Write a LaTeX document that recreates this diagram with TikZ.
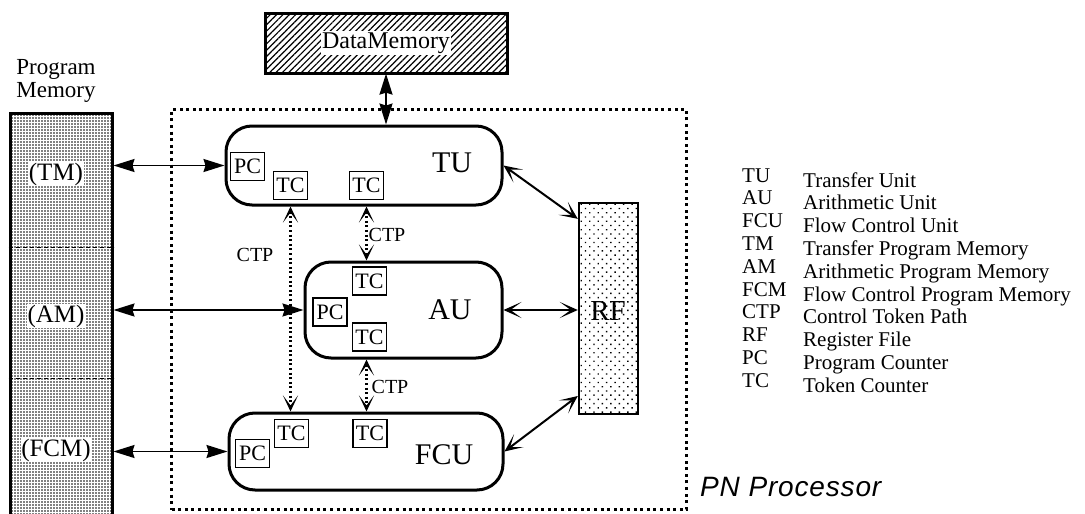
\documentclass[tikz,border=0pt]{standalone}
\usepackage{fontspec}
\setmainfont{Liberation Serif}
\newfontfamily\pnfont{Liberation Sans}[LetterSpace=3]
\usetikzlibrary{arrows.meta,patterns.meta,calc}
\begin{document}
\begin{tikzpicture}[x=1pt,y=-1pt,
  thickbox/.style={draw, line width=3pt, inner sep=0pt},
  unitbox/.style={draw, line width=3pt, rounded corners=26pt, inner sep=0pt},
  smallbox/.style={draw, line width=1.5pt, inner sep=0pt, minimum width=34pt, minimum height=28pt, font=\fontsize{22}{22}\selectfont},
  unitlbl/.style={inner sep=0pt, font=\fontsize{30}{30}\selectfont},
  pmlbl/.style={inner sep=0.5pt, fill=white, font=\fontsize{25}{25}\selectfont},
  ctplbl/.style={inner sep=0pt, font=\fontsize{20}{20}\selectfont},
  legab/.style={anchor=base west, inner sep=0pt, font=\fontsize{21}{21}\selectfont},
  pmarrow/.style={line width=1.8pt, {Stealth[length=21pt,width=13pt,inset=2pt]}-{Stealth[length=21pt,width=13pt,inset=2pt]}},
  rfarrow/.style={line width=2pt, {Stealth[length=18pt,width=16pt,inset=11pt]}-{Stealth[length=18pt,width=16pt,inset=11pt]}},
  ctparrow/.style={line width=2.2pt, dash pattern=on 2pt off 2.6pt, {Stealth[length=16pt,width=15pt,inset=10pt]}-{Stealth[length=16pt,width=15pt,inset=10pt]}},
  divider/.style={line width=1pt, dash pattern=on 4pt off 3pt}
]
\useasboundingbox (0,0) rectangle (1085,514);
\clip (0,0) rectangle (1085,514);

% Program memory
\node[align=center, inner sep=0pt, font=\fontsize{23}{23}\selectfont] (pmt) at (56,81) {Program\\Memory};
\node[thickbox, minimum width=102pt, minimum height=412pt, anchor=north, pattern={Dots[distance=3pt,radius=0.85pt]}] (pm) at (61,112) {};
\coordinate (d1) at (0,247);
\coordinate (d2) at (0,378);
\draw[divider] (pm.west |- d1) -- (pm.east |- d1);
\draw[divider] (pm.west |- d2) -- (pm.east |- d2);
\node[pmlbl] (tm) at (56,174) {(TM)};
\node[pmlbl] (am) at (56,316) {(AM)};
\node[pmlbl] (fcm) at (56,450) {(FCM)};

% Data memory
\node[thickbox, minimum width=242pt, minimum height=60pt, pattern={Lines[angle=45,distance=4.5pt,line width=1.2pt]}] (dm) at (386,43) {};
\node[inner sep=1.5pt, fill=white, font=\fontsize{24}{24}\selectfont] (dmt) at (dm.center) {DataMemory};

% processor frame
\node[draw, line width=3.2pt, dash pattern=on 3pt off 3.6pt, minimum width=515pt, minimum height=400pt, anchor=north west, inner sep=0pt] (proc) at (170,108) {};

% units
\node[unitbox, minimum width=276pt, minimum height=79pt] (tu) at (364,165.5) {};
\node[unitbox, minimum width=197pt, minimum height=96pt] (au) at (403.5,310) {};
\node[unitbox, minimum width=274pt, minimum height=77pt] (fcu) at (366,451.5) {};
\node[unitlbl] (tul) at (452,163) {TU};
\node[unitlbl] (aul) at (450,310) {AU};
\node[unitlbl] (fcul) at (444,455) {FCU};

% PC / TC boxes
\node[smallbox] (tupc) at (247.5,166.5) {PC};
\node[smallbox] (tutc1) at (290.5,185.5) {TC};
\node[smallbox] (tutc2) at (366.5,185.5) {TC};
\node[smallbox] (aupc) at (330,312) {PC};
\node[smallbox] (autc1) at (369.5,281) {TC};
\node[smallbox] (autc2) at (369.5,337) {TC};
\node[smallbox] (fcupc) at (252.5,453.5) {PC};
\node[smallbox] (fcutc1) at (291.5,433.5) {TC};
\node[smallbox] (fcutc2) at (370,433.5) {TC};

% register file
\node[draw, line width=2.4pt, minimum width=59pt, minimum height=211pt, inner sep=0pt, pattern={Dots[distance=6pt,angle=45,radius=1pt]}] (rf) at (608.5,308.5) {};
\node[inner sep=0pt, font=\fontsize{29}{29}\selectfont] (rfl) at (608,311) {RF};

% memory arrows
\draw[pmarrow] (pm.east |- tu.west) -- (tu.west);
\draw[pmarrow] (pm.east |- au.west) -- (au.west);
\draw[pmarrow] (pm.east |- fcu.west) -- (fcu.west);
\draw[pmarrow] (dm.south) -- (dm.south |- tu.north);

% register file arrows
\draw[rfarrow] (tu.east) -- ($(rf.north west)!0.08!(rf.south west)$);
\draw[rfarrow] (au.east) -- (au.east -| rf.west);
\draw[rfarrow] (fcu.east) -- ($(rf.north west)!0.91!(rf.south west)$);

% control token paths
\draw[ctparrow] (tutc1.south |- tu.south) -- (tutc1.south |- fcu.north);
\draw[ctparrow] (tutc2.south |- tu.south) -- (tutc2.south |- au.north);
\draw[ctparrow] (tutc2.south |- au.south) -- (tutc2.south |- fcu.north);
\node[ctplbl] (ctp1) at (255,255) {CTP};
\node[ctplbl] (ctp2) at (387,235) {CTP};
\node[ctplbl] (ctp3) at (390,387) {CTP};

% legend
\foreach \ab/\de [count=\i from 0] in {TU/Transfer Unit, AU/Arithmetic Unit, FCU/Flow Control Unit, TM/Transfer Program Memory, AM/Arithmetic Program Memory, FCM/Flow Control Program Memory, CTP/Control Token Path, RF/Register File, PC/Program Counter, TC/Token Counter}{
  \node[legab] (ab\i) at (742,182+22.8*\i) {\ab};
  \node[legab] (de\i) at (803,187+22.8*\i) {\de};
}

\node[anchor=base west, inner sep=0pt, font=\pnfont\itshape\fontsize{28}{28}\selectfont] (pn) at (700,496) {PN Processor};
\end{tikzpicture}
\end{document}
